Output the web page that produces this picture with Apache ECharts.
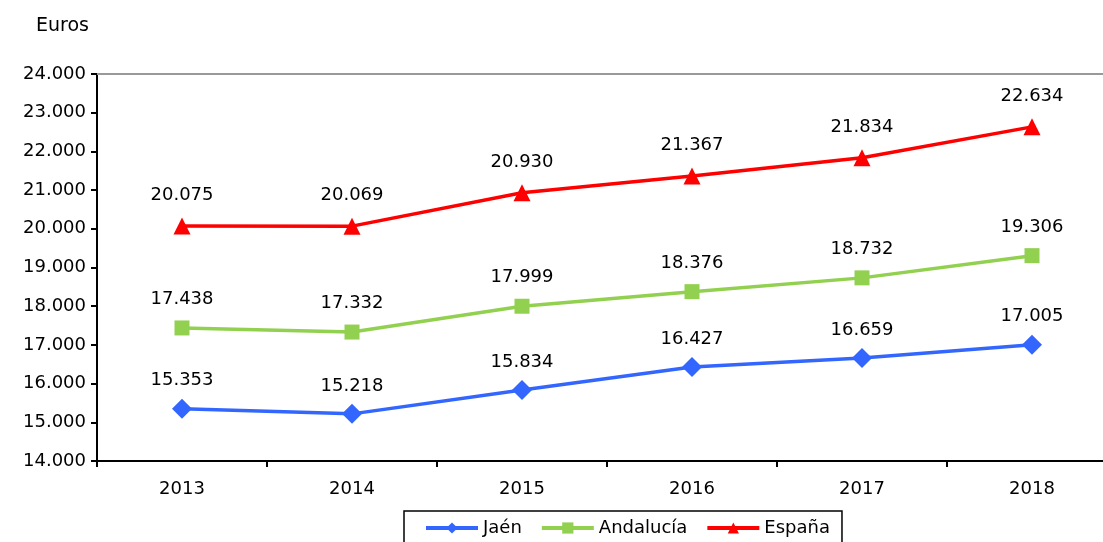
<!DOCTYPE html>
<html>
<head>
<meta charset="utf-8">
<script src="https://cdn.jsdelivr.net/npm/echarts@6/dist/echarts.min.js"></script>
<style>
  html, body { margin: 0; padding: 0; background: #fff; }
  #chart { width: 1103px; height: 542px; }
</style>
</head>
<body>
<div id="chart"></div>
<script>
const years = ['2013', '2014', '2015', '2016', '2017', '2018']
const jaen = [15353, 15218, 15834, 16427, 16659, 17005]
const andalucia = [17438, 17332, 17999, 18376, 18732, 19306]
const espana = [20075, 20069, 20930, 21367, 21834, 22634]

const font = 'DejaVu Sans'
const fmt = v => {
  const s = String(Math.round(v))
  return s.slice(0, s.length - 3) + '.' + s.slice(-3)
}

const chart = echarts.init(document.getElementById('chart'))

const makeSeries = (name, data, color, symbol, size, dist) => ({
  name,
  type: 'line',
  data,
  symbol,
  symbolSize: size,
  itemStyle: { color },
  lineStyle: { color, width: 3.5 },
  label: {
    show: true,
    position: 'top',
    distance: dist,
    formatter: p => fmt(p.value),
    color: '#000',
    fontFamily: font,
    fontSize: 18
  }
})

chart.setOption({
  animation: false,
  title: {
    text: 'Euros',
    left: 31,
    top: 12,
    textStyle: { fontFamily: font, fontSize: 19, fontWeight: 'normal', color: '#000' }
  },
  grid: { left: 97, top: 74, bottom: 81, width: 1020, outerBoundsMode: 'none', containLabel: false },
  legend: {
    left: 404,
    top: 511,
    padding: [8, 12, 12, 20],
    borderColor: '#000',
    borderWidth: 1.5,
    itemWidth: 52,
    itemHeight: 14,
    itemGap: 18,
    lineStyle: { width: 4 },
    textStyle: { fontFamily: font, fontSize: 18, color: '#000' },
    data: ['Jaén', 'Andalucía', 'España']
  },
  xAxis: [
    {
      type: 'category',
      data: years,
      boundaryGap: true,
      axisLine: { lineStyle: { color: '#000', width: 2 } },
      axisTick: { show: true, length: 6, lineStyle: { color: '#000', width: 2 } },
      axisLabel: { fontFamily: font, fontSize: 18, color: '#000', margin: 19 }
    },
    {
      type: 'category',
      data: years,
      position: 'top',
      axisLine: { lineStyle: { color: '#999', width: 2 } },
      axisTick: { show: false },
      axisLabel: { show: false }
    }
  ],
  yAxis: {
    type: 'value',
    min: 14000,
    max: 24000,
    interval: 1000,
    axisLine: { show: true, lineStyle: { color: '#000', width: 2 } },
    axisTick: { show: true, length: 6, lineStyle: { color: '#000', width: 2 } },
    splitLine: { show: false },
    axisLabel: { fontFamily: font, fontSize: 18, color: '#000', margin: 11, formatter: fmt }
  },
  series: [
    makeSeries('Jaén', jaen, '#3366FF', 'diamond', 20, 9),
    makeSeries('Andalucía', andalucia, '#92D050', 'rect', 15, 12),
    makeSeries('España', espana, '#FF0000', 'triangle', 17, 13)
  ]
})
</script>
</body>
</html>
